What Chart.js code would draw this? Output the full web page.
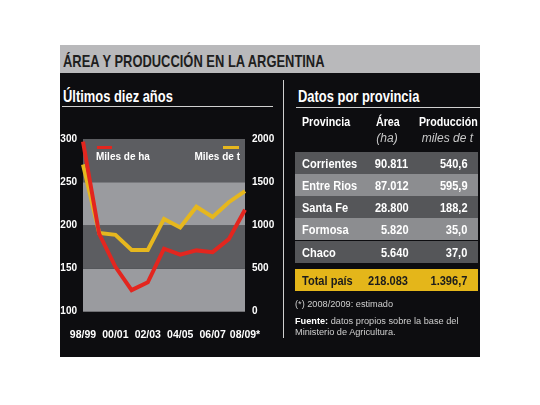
<!DOCTYPE html>
<html>
<head>
<meta charset="utf-8">
<script src="https://cdn.jsdelivr.net/npm/chart.js@4.4.1/dist/chart.umd.min.js"></script>
<style>
  html, body { margin: 0; padding: 0; background: #fff; }
  body { width: 540px; height: 405px; position: relative; overflow: hidden;
         font-family: "Liberation Sans", Arial, sans-serif; }
  .abs { position: absolute; white-space: nowrap; line-height: 1; transform-origin: 0 0; }
  #box { position: absolute; left: 60px; top: 45px; width: 420px; height: 312px; background: #0d0d10; overflow: hidden; }
  #titlebar { position: absolute; left: 0; top: 0; width: 420px; height: 28px; background: #b9b9bb; }
  .h1 { font-weight: bold; font-size: 17px; transform: scaleX(0.76); }
  .rule { position: absolute; height: 1px; background: #d0d0d0; }
  .leg { font-size: 10px; color: #fff; font-weight: bold; }
  .legline { position: absolute; height: 3px; }
  .row { position: absolute; left: 235px; width: 183px; height: 22.2px; font-weight: bold; font-size: 13px; color: #fff; }
  .row span { position: absolute; top: 5px; line-height: 1; white-space: nowrap; transform: scaleX(0.85); }
  .hd { font-weight: bold; font-size: 12px; color: #fff; transform: scaleX(0.89); }
  .it { font-style: italic; font-size: 12px; color: #c8c8c8; }
  .note { font-size: 9.2px; color: #cfcfcf; }
</style>
</head>
<body>
<div id="box">
  <div id="titlebar"></div>
  <div class="abs h1" id="title" style="left:3px; top:8px; color:#1e1e1e;">ÁREA Y PRODUCCIÓN EN LA ARGENTINA</div>

  <div class="abs h1" style="left:3px; top:43px; color:#fff;">Últimos diez años</div>
  <div class="rule" style="left:2px; top:61px; width:211px;"></div>

  <div class="abs h1" style="left:238px; top:43px; color:#fff;">Datos por provincia</div>
  <div class="rule" style="left:236px; top:62px; width:184px;"></div>

  <div style="position:absolute; left:223px; top:35px; width:1px; height:258px; background:#d0d0d0;"></div>

  <div id="chartWrap" style="position:absolute; left:0; top:80px; width:220px; height:220px;">
    <canvas id="chart"></canvas>
  </div>
  <div class="legline" style="left:37px; top:101px; width:15px; background:#e3261f;"></div>
  <div class="abs leg" style="left:36px; top:107px;">Miles de ha</div>
  <div class="legline" style="left:163px; top:101px; width:16px; background:#e6b71e;"></div>
  <div class="abs leg" style="left:120px; top:107px; width:60px; text-align:right;">Miles de t</div>

  <div class="abs hd" style="left:241.7px; top:71px;">Provincia</div>
  <div class="abs hd" style="left:316px; top:71px;">Área</div>
  <div class="abs it" style="left:307px; top:87px; width:40px; text-align:center;">(ha)</div>
  <div class="abs hd" style="left:359px; top:71px;">Producción</div>
  <div class="abs it" style="left:361.7px; top:87px;">miles de t</div>

  <div id="rows"></div>

  <div class="abs note" style="left:235px; top:255px;">(*) 2008/2009: estimado</div>
  <div class="abs note" style="left:235px; top:272px;"><b style="color:#fff;">Fuente:</b> datos propios sobre la base del</div>
  <div class="abs note" style="left:235px; top:283px;">Ministerio de Agricultura.</div>
</div>

<script>
// serie anual 98/99 - 08/09
const seasons = ['98/99', '99/00', '00/01', '01/02', '02/03', '03/04', '04/05', '05/06', '06/07', '07/08', '08/09*'];
const areaMilesHa = [297, 190, 152, 125, 134, 173, 166, 171, 169, 184, 218];
const prodMilesT = [1705, 912, 890, 715, 715, 1075, 975, 1216, 1098, 1268, 1397];
const leftTicks = [100, 150, 200, 250, 300];
const rightTicks = [0, 500, 1000, 1500, 2000];

// tabla por provincia
const provincias = ['Corrientes', 'Entre Rios', 'Santa Fe', 'Formosa', 'Chaco'];
const areaProv = ['90.811', '87.012', '28.800', '5.820', '5.640'];
const prodProv = ['540,6', '595,9', '188,2', '35,0', '37,0'];
const totalRow = ['Total país', '218.083', '1.396,7'];

const FONT = '"Liberation Sans", Arial, sans-serif';

function makeRow(cells, top, bg, color){
    let row = document.createElement('div');
    row.className = 'row';
    row.style.top = top + 'px';
    row.style.background = bg;
    row.style.color = color;
    let a = document.createElement('span');
    a.textContent = cells[0];
    a.style.left = '6.7px';
    a.style.transformOrigin = '0 0';
    let b = document.createElement('span');
    b.textContent = cells[1];
    b.style.right = '69.7px';
    b.style.transformOrigin = '100% 0';
    let c = document.createElement('span');
    c.textContent = cells[2];
    c.style.right = '10.7px';
    c.style.transformOrigin = '100% 0';
    row.append(a, b, c);
    document.getElementById('rows').appendChild(row);
}

for(let i = 0; i < provincias.length; i++){
    let bg = (i % 2 === 0) ? '#555659' : '#8c8d90';
    makeRow([provincias[i], areaProv[i], prodProv[i]], 106.7 + i * 22.2, bg, '#fff');
}
makeRow(totalRow, 224, '#e4b61a', '#1c1c1c');

// franjas grises del fondo
const bandsPlugin = {
    id: 'bands',
    beforeDatasetsDraw(chart){
        let ctx = chart.ctx, area = chart.chartArea, y = chart.scales.yL;
        ctx.save();
        for(let i = 0; i < leftTicks.length - 1; i++){
            let top = y.getPixelForValue(leftTicks[i + 1]);
            let bot = y.getPixelForValue(leftTicks[i]);
            ctx.fillStyle = (i % 2 === 0) ? '#9a9b9f' : '#5c5d61';
            ctx.fillRect(area.left, top, area.right - area.left, bot - top);
        }
        ctx.restore();
    }
};

Chart.defaults.font.family = FONT;

new Chart(document.getElementById('chart'), {
    type: 'line',
    data: {
        labels: seasons,
        datasets: [
            {
                label: 'Miles de ha',
                data: areaMilesHa,
                yAxisID: 'yL',
                borderColor: '#e3261f',
                borderWidth: 4,
                pointRadius: 0,
                tension: 0,
            },
            {
                label: 'Miles de t',
                data: prodMilesT,
                yAxisID: 'yR',
                borderColor: '#e6b71e',
                borderWidth: 4,
                pointRadius: 0,
                tension: 0,
            },
        ],
    },
    options: {
        responsive: true,
        maintainAspectRatio: false,
        animation: false,
        layout: { padding: { top: 14 } },
        plugins: {
            legend: { display: false },
            tooltip: { enabled: false },
        },
        scales: {
            x: {
                offset: false,
                grid: { display: false, drawTicks: true, tickLength: 15 },
                border: { display: false },
                ticks: {
                    color: '#fff',
                    font: { size: 10.5, weight: 'bold' },
                    autoSkip: false,
                    maxRotation: 0,
                    padding: 2,
                    callback: function(v, i){ return (i % 2 === 0) ? seasons[i] : ''; },
                },
                afterFit: (s) => { s.height = 33.3; },
            },
            yL: {
                position: 'left',
                min: leftTicks[0],
                max: leftTicks[leftTicks.length - 1],
                grid: { display: false, drawTicks: false },
                border: { display: false },
                afterBuildTicks: (s) => { s.ticks = leftTicks.map((v) => ({ value: v })); },
                ticks: {
                    color: '#fff',
                    font: { size: 10, weight: 'bold' },
                    padding: 6,
                    callback: (v) => String(v),
                },
                afterFit: (s) => { s.width = 23; },
            },
            yR: {
                position: 'right',
                min: rightTicks[0],
                max: rightTicks[rightTicks.length - 1],
                grid: { display: false, drawTicks: false },
                border: { display: false },
                afterBuildTicks: (s) => { s.ticks = rightTicks.map((v) => ({ value: v })); },
                ticks: {
                    color: '#fff',
                    font: { size: 10, weight: 'bold' },
                    padding: 7,
                    callback: (v) => String(v),
                },
                afterFit: (s) => { s.width = 35; },
            },
        },
    },
    plugins: [bandsPlugin],
});
</script>
</body>
</html>
